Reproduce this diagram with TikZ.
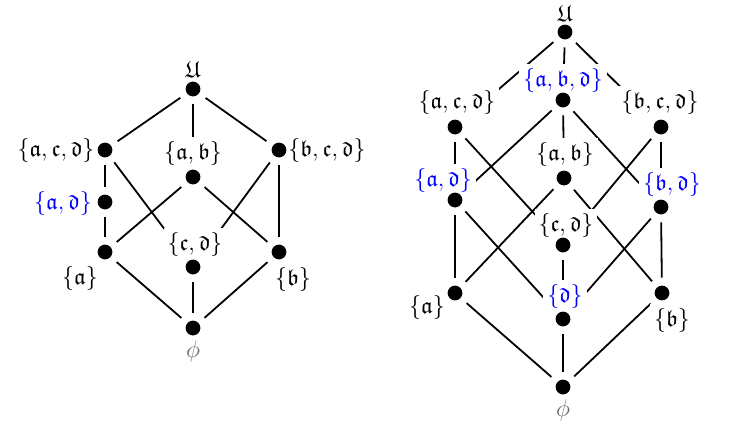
\documentclass[tikz,border=0pt]{standalone}
\usepackage{amssymb}
\usetikzlibrary{backgrounds}
\begin{document}
\begin{tikzpicture}[x=0.5pt,y=-0.5pt,
  dot/.style={circle,fill=black,inner sep=0pt,minimum size=7.4pt,outer sep=4pt},
  lbl/.style={fill=white,inner sep=2pt,font=\fontsize{11.5}{13}\selectfont},
  blbl/.style={lbl,text=blue},
  glbl/.style={lbl,text=black!60},
  edge/.style={line width=0.9pt}]
\useasboundingbox (0,0) rectangle (751,430);
% ---------- left lattice ----------
\node[lbl]  (lU)   at (193,70)  {$\mathfrak{U}$};
\node[lbl]  (lacd) at (56,150)  {$\{\mathfrak{a},\mathfrak{c},\mathfrak{d}\}$};
\node[lbl]  (lab)  at (193,153) {$\{\mathfrak{a},\mathfrak{b}\}$};
\node[lbl]  (lbcd) at (327,150) {$\{\mathfrak{b},\mathfrak{c},\mathfrak{d}\}$};
\node[blbl] (lad)  at (63,203)  {$\{\mathfrak{a},\mathfrak{d}\}$};
\node[lbl]  (la)   at (80,278)  {$\{\mathfrak{a}\}$};
\node[lbl]  (lcd)  at (195,244) {$\{\mathfrak{c},\mathfrak{d}\}$};
\node[lbl]  (lb)   at (293,279) {$\{\mathfrak{b}\}$};
\node[glbl] (lphi) at (193,351) {$\phi$};
\node[dot] (U)   at (193,89)  {};
\node[dot] (acd) at (105,150) {};
\node[dot] (ab)  at (193,177) {};
\node[dot] (bcd) at (279,150) {};
\node[dot] (ad)  at (105,202) {};
\node[dot] (a)   at (105,252) {};
\node[dot] (cd)  at (193,267) {};
\node[dot] (b)   at (279,252) {};
\node[dot] (phi) at (193,328) {};
% ---------- right lattice ----------
\node[lbl]  (rlU)   at (565,14)  {$\mathfrak{U}$};
\node[blbl] (rlabd) at (563,80)  {$\{\mathfrak{a},\mathfrak{b},\mathfrak{d}\}$};
\node[lbl]  (rlacd) at (457,102) {$\{\mathfrak{a},\mathfrak{c},\mathfrak{d}\}$};
\node[lbl]  (rlbcd) at (660,102) {$\{\mathfrak{b},\mathfrak{c},\mathfrak{d}\}$};
\node[lbl]  (rlab)  at (565,154) {$\{\mathfrak{a},\mathfrak{b}\}$};
\node[blbl] (rlad)  at (443,180) {$\{\mathfrak{a},\mathfrak{d}\}$};
\node[blbl] (rlbd)  at (672,184) {$\{\mathfrak{b},\mathfrak{d}\}$};
\node[lbl]  (rlcd)  at (566,225) {$\{\mathfrak{c},\mathfrak{d}\}$};
\node[lbl]  (rla)   at (427,307) {$\{\mathfrak{a}\}$};
\node[blbl] (rld)   at (565,296) {$\{\mathfrak{d}\}$};
\node[lbl]  (rlb)   at (672,320) {$\{\mathfrak{b}\}$};
\node[glbl] (rlphi) at (563,410) {$\phi$};
\node[dot] (rU)   at (565,32)  {};
\node[dot] (rabd) at (563,100) {};
\node[dot] (racd) at (455,127) {};
\node[dot] (rbcd) at (661,127) {};
\node[dot] (rab)  at (564,178) {};
\node[dot] (rad)  at (455,200) {};
\node[dot] (rbd)  at (661,207) {};
\node[dot] (rcd)  at (563,245) {};
\node[dot] (ra)   at (455,293) {};
\node[dot] (rd)   at (563,319) {};
\node[dot] (rb)   at (662,293) {};
\node[dot] (rphi) at (563,387) {};
\begin{scope}[on background layer]
\draw[edge] (U) -- (acd);
\draw[edge] (U) -- (ab);
\draw[edge] (U) -- (bcd);
\draw[edge] (acd) -- (ad);
\draw[edge] (acd) -- (cd);
\draw[edge] (ad) -- (a);
\draw[edge] (bcd) -- (cd);
\draw[edge] (bcd) -- (b);
\draw[edge] (ab) -- (a);
\draw[edge] (ab) -- (b);
\draw[edge] (a) -- (phi);
\draw[edge] (cd) -- (phi);
\draw[edge] (b) -- (phi);
\draw[edge] (rU) -- (racd);
\draw[edge] (rU) -- (rabd);
\draw[edge] (rU) -- (rbcd);
\draw[edge] (racd) -- (rad);
\draw[edge] (racd) -- (rcd);
\draw[edge] (rabd) -- (rad);
\draw[edge] (rabd) -- (rab);
\draw[edge] (rabd) -- (rbd);
\draw[edge] (rbcd) -- (rbd);
\draw[edge] (rbcd) -- (rcd);
\draw[edge] (rab) -- (ra);
\draw[edge] (rab) -- (rb);
\draw[edge] (rad) -- (ra);
\draw[edge] (rad) -- (rd);
\draw[edge] (rbd) -- (rb);
\draw[edge] (rbd) -- (rd);
\draw[edge] (rcd) -- (rd);
\draw[edge] (ra) -- (rphi);
\draw[edge] (rd) -- (rphi);
\draw[edge] (rb) -- (rphi);
\end{scope}
\end{tikzpicture}
\end{document}
